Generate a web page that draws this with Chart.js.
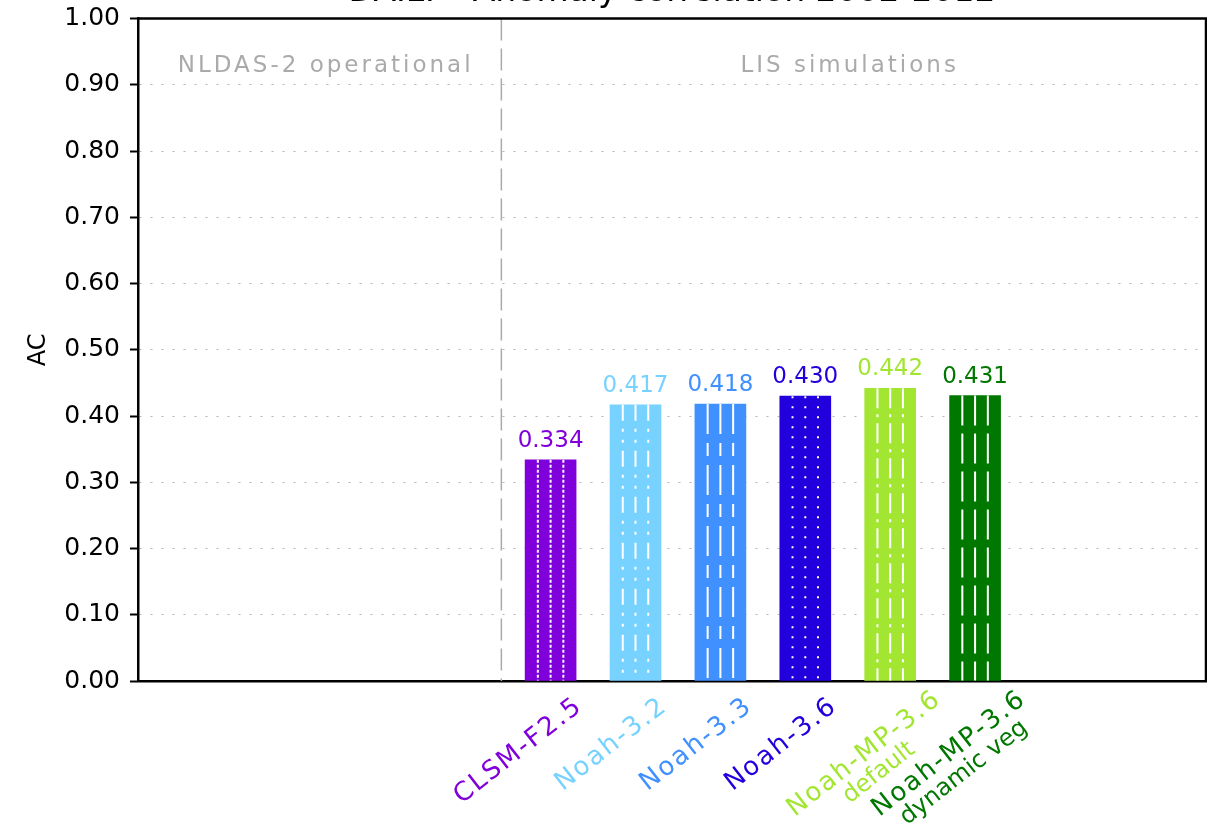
<!DOCTYPE html>
<html>
<head>
<meta charset="utf-8">
<script src="https://cdn.jsdelivr.net/npm/chart.js@4.4.1/dist/chart.umd.min.js"></script>
<style>
  html, body { margin: 0; padding: 0; background: #fff; overflow: hidden; }
  #wrap { width: 1207px; height: 827px; overflow: hidden; }
  #chart { display: block; margin-top: -28px; }
</style>
</head>
<body>
<div id="wrap"><canvas id="chart" width="1207" height="855"></canvas></div>
<script>
const chartTitle = 'DAILY - Anomaly correlation 2002-2012';
const models = [['CLSM-F2.5'], ['Noah-3.2'], ['Noah-3.3'], ['Noah-3.6'], ['Noah-MP-3.6', 'default'], ['Noah-MP-3.6', 'dynamic veg']];
const acValues = [0.334, 0.417, 0.418, 0.430, 0.442, 0.431];
const barColors = ['#8000dc', '#78d2ff', '#4090ff', '#2200dd', '#a3e632', '#007800'];
const hatchDashes = [[3, 2], [16, 8, 3, 8, 3, 8], [30, 9, 13, 9], [2, 8], [20, 6, 3, 6], [30, 8]];
const sections = ['NLDAS-2 operational', 'LIS simulations'];

// x axis runs in "model slot" units; the empty left part is the NLDAS-2 block
const xMin = -4.86, xMax = 7.72;
const sectionBreak = -0.58;

Chart.defaults.font.family = '"DejaVu Sans", sans-serif';

const decorations = {
  id: 'decorations',
  beforeDatasetsDraw(chart) {
    const { ctx, chartArea: a, scales: { x } } = chart;
    const bx = x.getPixelForValue(sectionBreak);
    ctx.save();
    // dashed separator between the two blocks
    ctx.strokeStyle = '#aaa';
    ctx.lineWidth = 1.5;
    ctx.setLineDash([22, 8]);
    ctx.beginPath();
    ctx.moveTo(bx, a.top);
    ctx.lineTo(bx, a.bottom);
    ctx.stroke();
    ctx.setLineDash([]);
    ctx.font = '23px "DejaVu Sans"';
    ctx.fillStyle = '#aaa';
    ctx.textAlign = 'center';
    ctx.textBaseline = 'middle';
    ctx.letterSpacing = '3px';
    ctx.fillText(sections[0], (a.left + bx) / 2 + 6, a.top + 47);
    ctx.fillText(sections[1], (bx + a.right) / 2 - 4, a.top + 47);
    ctx.restore();
  },
  afterDatasetsDraw(chart) {
    const { ctx } = chart;
    const meta = chart.getDatasetMeta(0);
    ctx.save();
    meta.data.forEach((el, i) => {
      // white hatch lines inside each bar
      ctx.strokeStyle = '#fff';
      ctx.lineWidth = 2;
      ctx.setLineDash(hatchDashes[i]);
      [-1, 0, 1].forEach(k => {
        const lx = el.x + k * el.width / 4;
        ctx.beginPath();
        ctx.moveTo(lx, el.y);
        ctx.lineTo(lx, el.base);
        ctx.stroke();
      });
      ctx.setLineDash([]);
      // value on top
      ctx.font = '23px "DejaVu Sans"';
      ctx.fillStyle = barColors[i];
      ctx.textAlign = 'center';
      ctx.textBaseline = 'alphabetic';
      ctx.fillText(acValues[i].toFixed(3), el.x, el.y - 13);
    });
    ctx.restore();
  },
  afterDraw(chart) {
    const { ctx, chartArea: a, scales: { x } } = chart;
    ctx.save();
    ctx.strokeStyle = '#000';
    ctx.lineWidth = 2.5;
    ctx.beginPath();
    ctx.moveTo(a.left, a.top);
    ctx.lineTo(a.right, a.top);
    ctx.lineTo(a.right, a.bottom);
    ctx.stroke();

    // slanted model names, second line centred under the first
    const angle = 38 * Math.PI / 180;
    models.forEach((lines, i) => {
      const px = x.getPixelForValue(i);
      const multi = lines.length > 1;
      ctx.save();
      ctx.translate(px + (multi ? 40 : 21), a.bottom + (multi ? 5 : 12));
      ctx.rotate(-angle);
      ctx.fillStyle = barColors[i];
      ctx.textBaseline = 'top';
      ctx.font = '26px "DejaVu Sans"';
      ctx.letterSpacing = '2px';
      const w1 = ctx.measureText(lines[0]).width;
      ctx.textAlign = 'right';
      ctx.fillText(lines[0], 0, 0);
      ctx.font = '24px "DejaVu Sans"';
      ctx.letterSpacing = '0px';
      ctx.textAlign = 'center';
      lines.slice(1).forEach((t, j) => ctx.fillText(t, -w1 / 2, 25 * (j + 1)));
      ctx.restore();
    });
    ctx.restore();
  }
};

new Chart(document.getElementById('chart'), {
  type: 'bar',
  data: {
    datasets: [{
      data: acValues.map((v, i) => ({ x: i, y: v })),
      backgroundColor: barColors,
      barThickness: 51,
      borderWidth: 0
    }]
  },
  options: {
    responsive: false,
    animation: false,
    layout: { padding: { left: 0, right: 1, top: 0, bottom: 0 } },
    plugins: {
      legend: { display: false },
      tooltip: { enabled: false },
      title: {
        display: true,
        fullSize: false,
        text: chartTitle,
        color: '#000',
        font: { size: 33, weight: 'normal' },
        padding: { top: 1, bottom: 6 }
      }
    },
    scales: {
      x: {
        type: 'linear',
        min: xMin,
        max: xMax,
        offset: false,
        afterFit: s => { s.height = 146; },
        grid: { display: false, drawTicks: false },
        border: { display: true, color: '#000', width: 2.5 },
        ticks: { display: false }
      },
      y: {
        min: 0,
        max: 1,
        afterFit: s => { s.width = 138; },
        ticks: {
          stepSize: 0.1,
          padding: 10,
          color: '#000',
          font: { size: 25 },
          callback: v => v.toFixed(2)
        },
        grid: {
          color: c => (c.tick && (c.tick.value < 0.001 || c.tick.value > 0.999)) ? 'rgba(0,0,0,0)' : '#b4b4b4',
          lineWidth: 1,
          tickColor: '#000',
          tickWidth: 2,
          tickLength: 8,
          tickBorderDash: []
        },
        border: { color: '#000', width: 2.5, dash: [2, 9] },
        title: { display: true, text: 'AC', color: '#000', font: { size: 24 }, padding: { top: 24 } }
      }
    }
  },
  plugins: [decorations]
});
</script>
</body>
</html>
